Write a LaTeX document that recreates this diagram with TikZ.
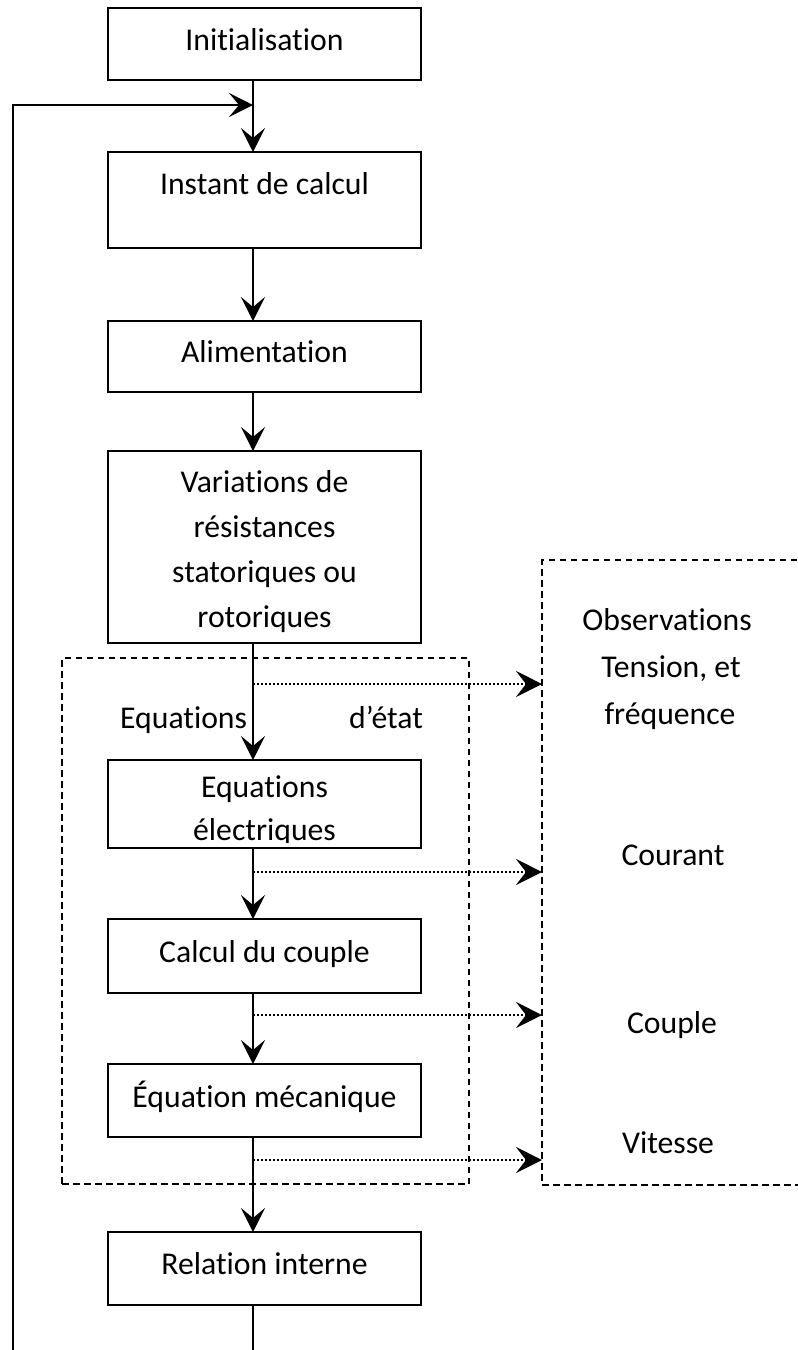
\documentclass[tikz,border=0pt]{standalone}
\usepackage{fontspec}
\setmainfont[RawFeature={-liga;-clig;-calt;-dlig}]{Carlito}
\usetikzlibrary{arrows.meta}
\begin{document}
\begin{tikzpicture}[x=1pt,y=-1pt,
  box/.style={draw, line width=2pt, minimum width=313pt, inner sep=0pt, outer sep=0pt},
  lbl/.style={font=\fontsize{31.7pt}{45pt}\selectfont, inner sep=0pt, anchor=base},
  flow/.style={line width=2pt, -{Stealth[length=24pt,width=24pt,inset=10pt]}},
  link/.style={line width=2pt},
  probe/.style={line width=1.6pt, dash pattern=on 1.6pt off 2.4pt,
    -{Stealth[length=26pt,width=26pt,inset=10pt]}},
  group/.style={draw, line width=1.3pt, dash pattern=on 6.5pt off 4.5pt,
    inner sep=0pt, outer sep=0pt}]

\useasboundingbox (0,0) rectangle (798,1350);
\clip (0,0) rectangle (798,1350);

% main flow x position and loop coordinates
\coordinate (spine) at (253,0);
\coordinate (loopfoot) at (13,1360);
\coordinate (loopin) at (253,105);
\coordinate (relfoot) at (253,1360);

% process boxes
\node[box, minimum height=72pt]  (init) at (264.5,44)    {};
\node[box, minimum height=96pt]  (inst) at (264.5,200)   {};
\node[box, minimum height=71pt]  (alim) at (264.5,356.5) {};
\node[box, minimum height=192pt] (vari) at (264.5,547)   {};
\node[box, minimum height=88pt]  (eqel) at (264.5,804)   {};
\node[box, minimum height=74pt]  (calc) at (264.5,956)   {};
\node[box, minimum height=73pt]  (meca) at (264.5,1100.5){};
\node[box, minimum height=73pt]  (rel)  at (264.5,1268.5){};

% dashed groups
\node[group, minimum width=407pt, minimum height=526pt] (etat) at (265.5,921) {};
\node[group, minimum width=288pt, minimum height=625pt] (obs)  at (686,872.5) {};

% box texts
\node[lbl] (tinit) at (264.5,50)  {Initialisation};
\node[lbl] (tinst) at (264.5,194) {Instant de calcul};
\node[lbl] (talim) at (264.5,362) {Alimentation};
\node[lbl] (tvar1) at (264.5,492) {Variations de};
\node[lbl] (tvar2) at (264.5,537) {résistances};
\node[lbl] (tvar3) at (264.5,582) {statoriques ou};
\node[lbl] (tvar4) at (264.5,627) {rotoriques};
\node[lbl] (teq1)  at (264.5,797) {Equations};
\begin{scope}
  % the second line runs past the text area of its box and is cut off
  \clip (eqel.north west) rectangle ([yshift=6pt]eqel.south east);
  \node[lbl] (teq2) at (264.5,840) {électriques};
\end{scope}
\node[lbl] (tcalc) at (264.5,962)  {Calcul du couple};
\node[lbl] (tmeca) at (264.5,1107) {Équation mécanique};
\node[lbl] (trel)  at (264.5,1274) {Relation interne};

% group label
\node[lbl, anchor=base west] (tequ) at (120,728) {Equations};
\node[lbl, anchor=base west] (tdet) at (349,728) {d’état};

% observed quantities
\node[lbl] (tobs1) at (667,630)  {Observations};
\node[lbl] (tobs2) at (671,677)  {Tension, et};
\node[lbl] (tobs3) at (670,724)  {fréquence};
\node[lbl] (tcour) at (673,865)  {Courant};
\node[lbl] (tcoup) at (672,1033) {Couple};
\node[lbl] (tvit)  at (668,1153) {Vitesse};

% main flow
\draw[flow] (init.south -| spine) -- (inst.north -| spine);
\draw[flow] (inst.south -| spine) -- (alim.north -| spine);
\draw[flow] (alim.south -| spine) -- (vari.north -| spine);
\draw[flow] (vari.south -| spine) -- (eqel.north -| spine);
\draw[flow] (eqel.south -| spine) -- (calc.north -| spine);
\draw[flow] (calc.south -| spine) -- (meca.north -| spine);
\draw[flow] (meca.south -| spine) -- (rel.north -| spine);
\draw[link] (rel.south -| spine) -- (relfoot);

% loop back
\draw[flow] (loopfoot) |- (loopin);

% observation taps
\coordinate (tap1) at (253,684);
\coordinate (tap2) at (253,872);
\coordinate (tap3) at (253,1015);
\coordinate (tap4) at (253,1160);
\draw[probe] (tap1) -- (tap1 -| obs.west);
\draw[probe] (tap2) -- (tap2 -| obs.west);
\draw[probe] (tap3) -- (tap3 -| obs.west);
\draw[probe] (tap4) -- (tap4 -| obs.west);
\end{tikzpicture}
\end{document}
